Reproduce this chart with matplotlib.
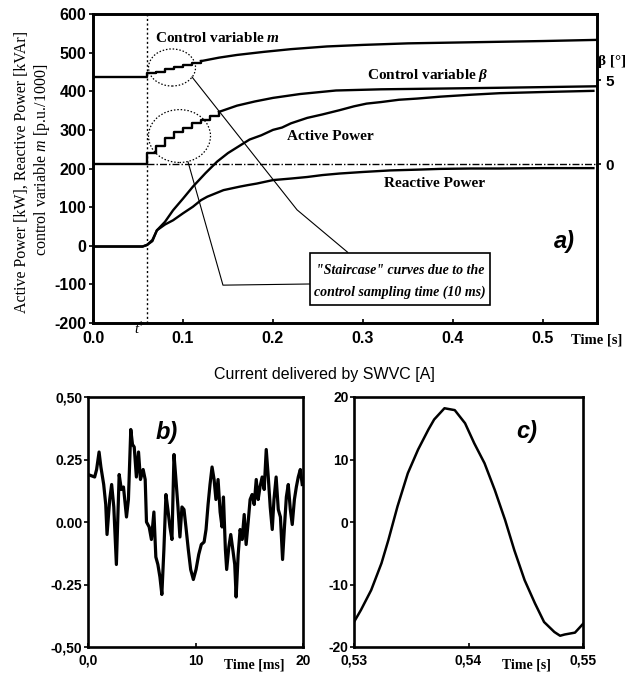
import matplotlib
matplotlib.use("Agg")
import matplotlib.pyplot as plt
from matplotlib.patches import Ellipse, Rectangle

# ---------------- data (panel a) ----------------
t_star = 0.06
t_end = 0.56

m_time = [0.00, 0.06, 0.07, 0.08, 0.09, 0.10, 0.11, 0.12, 0.14, 0.16, 0.19, 0.22,
          0.26, 0.30, 0.35, 0.40, 0.45, 0.50, 0.56]
m_val = [438, 446, 451, 457, 463, 468, 473, 478, 487, 494, 502, 509,
         516, 520, 524, 526, 528, 530, 533]
m_stair_end = 0.12

beta_time = [0.00, 0.06, 0.07, 0.08, 0.09, 0.10, 0.11, 0.12, 0.13, 0.14, 0.16, 0.18,
             0.20, 0.23, 0.27, 0.32, 0.38, 0.45, 0.50, 0.56]
beta_deg = [0.00, 0.65, 1.11, 1.54, 1.89, 2.17, 2.42, 2.63, 2.86, 3.11, 3.48, 3.73,
            3.94, 4.17, 4.38, 4.45, 4.49, 4.54, 4.58, 4.63]
beta_stair_end = 0.14

p_time = [0.00, 0.055, 0.06, 0.066, 0.071, 0.08, 0.089, 0.10, 0.111, 0.125, 0.138,
          0.15, 0.163, 0.174, 0.187, 0.20, 0.21, 0.22, 0.238, 0.255, 0.274, 0.29,
          0.304, 0.32, 0.34, 0.36, 0.386, 0.42, 0.452, 0.50, 0.556]
p_val = [-2, -2, 2, 12, 40, 62, 92, 122, 153, 188, 218,
         240, 259, 275, 286, 300, 306, 317, 331, 340, 351, 361,
         368, 372, 378, 381, 386, 391, 395, 398, 401]

q_time = [0.00, 0.055, 0.06, 0.066, 0.071, 0.08, 0.089, 0.10, 0.111, 0.12, 0.127,
          0.145, 0.163, 0.172, 0.182, 0.20, 0.22, 0.238, 0.255, 0.274, 0.30,
          0.33, 0.36, 0.386, 0.42, 0.452, 0.50, 0.556]
q_val = [-2, -2, 2, 15, 40, 55, 66, 84, 101, 118, 127,
         144, 153, 157, 161, 170, 174, 178, 183, 187, 191,
         195, 197, 199, 200, 200, 201, 201]

# ---------------- data (panel b) ----------------
b_time = [0.0, 0.62, 0.8, 1.03, 1.2, 1.46, 1.65, 1.77, 2.02, 2.2, 2.4, 2.64, 2.9, 3.1,
          3.3, 3.58, 3.76, 3.98, 4.14, 4.3, 4.5, 4.7, 4.88, 5.13, 5.32, 5.44, 5.69,
          5.9, 6.13, 6.31, 6.5, 6.69, 6.87, 7.06, 7.25, 7.43, 7.62, 7.81, 8.0, 8.18,
          8.37, 8.55, 8.74, 8.93, 9.11, 9.33, 9.55, 9.8, 10.05, 10.3, 10.54, 10.8,
          10.98, 11.17, 11.35, 11.54, 11.73, 11.9, 12.1, 12.29, 12.47, 12.6, 12.78,
          12.9, 13.1, 13.28, 13.47, 13.65, 13.78, 13.97, 14.15, 14.34, 14.53, 14.71,
          14.9, 15.08, 15.27, 15.46, 15.65, 15.83, 16.0, 16.2, 16.39, 16.58, 16.77,
          16.95, 17.14, 17.3, 17.5, 17.7, 17.9, 18.1, 18.26, 18.45, 18.63, 18.82,
          19.0, 19.2, 19.38, 19.56, 19.75, 19.93]
b_val = [0.19, 0.18, 0.21, 0.28, 0.22, 0.15, 0.07, -0.05, 0.09, 0.15, 0.06, -0.17,
         0.19, 0.13, 0.14, 0.02, 0.09, 0.37, 0.31, 0.30, 0.18, 0.28, 0.17, 0.21,
         0.17, 0.00, -0.02, -0.07, 0.04, -0.14, -0.17, -0.22, -0.29, -0.11, 0.11,
         0.05, -0.02, -0.07, 0.27, 0.17, 0.06, -0.06, 0.06, 0.05, -0.02, -0.11,
         -0.19, -0.23, -0.19, -0.13, -0.09, -0.08, -0.03, 0.07, 0.15, 0.22, 0.17,
         0.09, 0.17, 0.04, -0.02, 0.10, -0.11, -0.19, -0.10, -0.05, -0.11, -0.17,
         -0.30, -0.13, -0.03, -0.07, 0.03, -0.09, 0.00, 0.09, 0.11, 0.07, 0.17,
         0.09, 0.14, 0.18, 0.13, 0.29, 0.18, 0.06, -0.03, 0.09, 0.18, 0.05, 0.02,
         -0.15, -0.03, 0.10, 0.15, 0.05, -0.01, 0.09, 0.14, 0.18, 0.21, 0.15]

# ---------------- data (panel c) ----------------
c_time = [0.5300, 0.5306, 0.5315, 0.5324, 0.5330, 0.5338, 0.5347, 0.5356, 0.5365,
          0.5370, 0.5376, 0.5379, 0.5385, 0.5388, 0.5397, 0.5405, 0.5414, 0.5423,
          0.5432, 0.5440, 0.5449, 0.5458, 0.5466, 0.5475, 0.5480, 0.5484, 0.5493,
          0.5500]
c_val = [-16.0, -14.1, -10.9, -6.6, -2.9, 2.5, 7.8, 11.6, 14.8, 16.4, 17.6, 18.2,
         18.0, 17.9, 15.8, 12.6, 9.4, 5.1, 0.3, -4.5, -9.3, -13.0, -16.0, -17.6,
         -18.2, -18.0, -17.7, -16.3]

a_xticks = [0.0, 0.1, 0.2, 0.3, 0.4, 0.5]
a_yticks = [-200, -100, 0, 100, 200, 300, 400, 500, 600]
beta_ticks = [0, 5]
b_yticks = [-0.5, -0.25, 0.0, 0.25, 0.5]
b_ylabels = ["-0,50", "-0.25", "0.00", "0.25", "0,50"]
b_xticks = [0, 10, 20]
b_xlabels = ["0,0", "10", "20"]
c_yticks = [-20, -10, 0, 10, 20]
c_xticks = [0.53, 0.54, 0.55]
c_xlabels = ["0,53", "0,54", "0,55"]

SANS = "Liberation Sans"
SERIF = "Liberation Serif"
W, H = 638, 674

plt.rcParams["font.family"] = [SANS, "DejaVu Sans"]
plt.rcParams["mathtext.fontset"] = "custom"
plt.rcParams["mathtext.rm"] = SERIF + ":bold"
plt.rcParams["mathtext.it"] = SERIF + ":italic:bold"
plt.rcParams["mathtext.bf"] = SERIF + ":bold"
plt.rcParams["mathtext.sf"] = SERIF + ":italic"

fig = plt.figure(figsize=(W / 100, H / 100), dpi=100)


def px_axes(l, r, t, b):
    return fig.add_axes([l / W, 1 - b / H, (r - l) / W, (b - t) / H])


def fx(x):
    return x / W


def fy(y):
    return 1 - y / H


# ================= panel a =================
ax = px_axes(93, 597, 14, 323)
ax.set_xlim(0, t_end)
ax.set_ylim(-200, 600)
lw_curve = 1.7

k = m_time.index(m_stair_end)
ax.plot(m_time[:k + 1], m_val[:k + 1], color="black", lw=lw_curve, drawstyle="steps-post")
ax.plot(m_time[k:], m_val[k:], color="black", lw=lw_curve)
ax.plot(p_time, p_val, color="black", lw=lw_curve)
ax.plot(q_time, q_val, color="black", lw=lw_curve)

ax.axvline(t_star, color="black", lw=1.0, ls=(0, (1.5, 1.8)))

ax2 = ax.twinx()
beta0 = 211.0
beta_per_deg = 43.6
ax2.set_ylim((-200 - beta0) / beta_per_deg, (600 - beta0) / beta_per_deg)
kb = beta_time.index(beta_stair_end)
ax2.plot(beta_time[:kb + 1], beta_deg[:kb + 1], color="black", lw=lw_curve, drawstyle="steps-post")
ax2.plot(beta_time[kb:], beta_deg[kb:], color="black", lw=lw_curve)
ax2.hlines(0, t_star, t_end, color="black", lw=1.0, linestyles=(0, (5, 1.5, 1, 1.5)))
ax2.set_yticks(beta_ticks)
ax2.set_yticklabels([str(v) for v in beta_ticks], fontsize=11, fontweight="bold", family=SANS)
ax2.tick_params(axis="y", direction="out", length=3, width=1.2, pad=3)
for s in ax2.spines.values():
    s.set_linewidth(1.9)

for s in ax.spines.values():
    s.set_linewidth(1.9)
ax.set_xticks(a_xticks)
ax.set_xticklabels([f"{v:.1f}" for v in a_xticks], fontsize=11.5, fontweight="bold")
ax.set_yticks(a_yticks)
ax.set_yticklabels([str(v) for v in a_yticks], fontsize=11.5, fontweight="bold")
ax.tick_params(axis="x", direction="in", length=3, width=1.2, pad=6)
ax.tick_params(axis="y", direction="out", length=3, width=1.2, pad=2)

# labels inside panel a
ax.text(0.138, 538, r"Control variable $\mathit{m}$", family=SERIF, fontsize=11,
        ha="center", va="center", fontweight="bold")
ax.text(0.372, 442, r"Control variable $\mathit{\beta}$", family=SERIF, fontsize=11,
        ha="center", va="center", fontweight="bold")
ax.text(0.264, 282, "Active Power", family=SERIF, fontsize=11, ha="center",
        va="center", fontweight="bold")
ax.text(0.380, 162, "Reactive Power", family=SERIF, fontsize=11, ha="center",
        va="center", fontweight="bold")
ax.text(0.524, 12, "a)", family=SANS, fontsize=17, fontweight="bold",
        fontstyle="italic", ha="center", va="center")

# staircase call-outs
ax.add_patch(Ellipse((0.0878, 461.5), 0.0522, 96, fill=False, lw=0.9, ls=(0, (1.2, 1.5)),
                     ec="black"))
ax.add_patch(Ellipse((0.0961, 284), 0.0689, 137, fill=False, lw=0.9, ls=(0, (1.2, 1.5)),
                     ec="black"))
ax.plot([0.110, 0.2267, 0.283], [437, 93, -17], color="black", lw=0.8)
ax.plot([0.1056, 0.1444, 0.241], [217, -102, -99], color="black", lw=0.8)
ax.add_patch(Rectangle((0.241, -153), 0.200, 134, fill=True, fc="white", ec="black",
                       lw=1.2, zorder=5))
ax.text(0.341, -64, "\"Staircase\" curves due to the", family=SERIF, fontsize=10,
        fontstyle="italic", fontweight="bold", ha="center", va="center", zorder=6)
ax.text(0.341, -120, "control sampling time (10 ms)", family=SERIF, fontsize=10,
        fontstyle="italic", fontweight="bold", ha="center", va="center", zorder=6)

# outside labels panel a
fig.text(fx(22), fy(172), "Active Power [kW], Reactive Power [kVAr]", family=SERIF,
         fontsize=11.5, rotation=90, ha="center", va="center")
fig.text(fx(42), fy(160), r"control variable $\mathsf{m}$ [p.u./1000]", family=SERIF,
         fontsize=11.5, rotation=90, ha="center", va="center")
fig.text(fx(612), fy(62), "β [°]", family=SERIF, fontsize=11,
         fontweight="bold", ha="center", va="center")
fig.text(fx(597), fy(340), "Time [s]", family=SERIF, fontsize=10.5, fontweight="bold",
         ha="center", va="center")
fig.text(fx(136), fy(330), "t", family=SERIF, fontsize=10.5, fontstyle="italic",
         ha="center", va="center")
fig.text(fx(141), fy(325), "*", family=SERIF, fontsize=9,
         ha="center", va="center")

# ================= title for b / c =================
fig.text(fx(324), fy(375), "Current delivered by SWVC [A]", family=SANS, fontsize=11.5,
         ha="center", va="center")

# ================= panel b =================
bx = px_axes(88, 303, 397, 647)
bx.plot(b_time, b_val, color="black", lw=2.3)
bx.set_xlim(0, 20)
bx.set_ylim(-0.5, 0.5)
bx.set_yticks(b_yticks)
bx.set_yticklabels(b_ylabels, fontsize=10, fontweight="bold")
bx.set_xticks(b_xticks)
bx.set_xticklabels(b_xlabels, fontsize=10, fontweight="bold")
bx.tick_params(axis="y", direction="out", length=3, width=1.2, pad=1)
bx.tick_params(axis="x", direction="in", length=3, width=1.2, pad=5)
for s in bx.spines.values():
    s.set_linewidth(1.9)
bx.text(7.3, 0.36, "b)", family=SANS, fontsize=17, fontweight="bold",
        fontstyle="italic", ha="center", va="center")
fig.text(fx(254), fy(665), "Time [ms]", family=SERIF, fontsize=10, fontweight="bold",
         ha="center", va="center")

# ================= panel c =================
cx = px_axes(354, 583, 397, 647)
cx.plot(c_time, c_val, color="black", lw=1.8)
cx.set_xlim(0.53, 0.55)
cx.set_ylim(-20, 20)
cx.set_yticks(c_yticks)
cx.set_yticklabels([str(v) for v in c_yticks], fontsize=10, fontweight="bold")
cx.set_xticks(c_xticks)
cx.set_xticklabels(c_xlabels, fontsize=10, fontweight="bold")
cx.tick_params(axis="y", direction="out", length=3, width=1.2, pad=1)
cx.tick_params(axis="x", direction="in", length=3, width=1.2, pad=5)
for s in cx.spines.values():
    s.set_linewidth(1.9)
cx.text(0.5451, 14.5, "c)", family=SANS, fontsize=17, fontweight="bold",
        fontstyle="italic", ha="center", va="center")
fig.text(fx(526), fy(665), "Time [s]", family=SERIF, fontsize=10, fontweight="bold",
         ha="center", va="center")

fig.savefig("out.png", dpi=100)
